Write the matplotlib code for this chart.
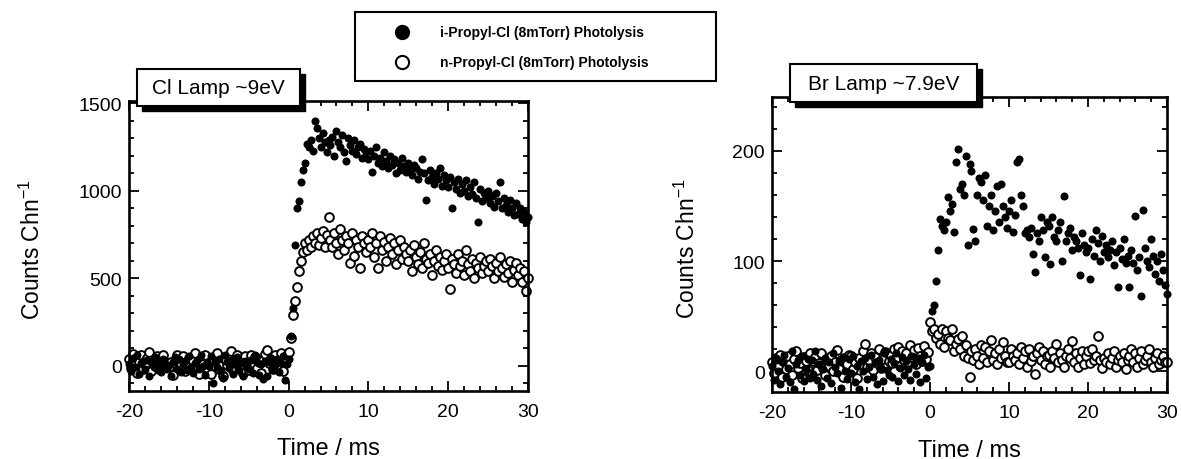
import matplotlib
matplotlib.use("Agg")
import matplotlib.pyplot as plt
from matplotlib.patches import Rectangle
from matplotlib.lines import Line2D
from matplotlib.ticker import MultipleLocator

plt.rcParams['font.family'] = ['Liberation Sans', 'DejaVu Sans']
plt.rcParams['axes.unicode_minus'] = False
plt.rcParams['mathtext.default'] = 'regular'

# 1. Data (time channels in ms, counts per channel)
time_ms = [
    -20.0, -19.75, -19.5, -19.25, -19.0, -18.75, -18.5, -18.25, -18.0, -17.75,
    -17.5, -17.25, -17.0, -16.75, -16.5, -16.25, -16.0, -15.75, -15.5, -15.25,
    -15.0, -14.75, -14.5, -14.25, -14.0, -13.75, -13.5, -13.25, -13.0, -12.75,
    -12.5, -12.25, -12.0, -11.75, -11.5, -11.25, -11.0, -10.75, -10.5, -10.25,
    -10.0, -9.75, -9.5, -9.25, -9.0, -8.75, -8.5, -8.25, -8.0, -7.75,
    -7.5, -7.25, -7.0, -6.75, -6.5, -6.25, -6.0, -5.75, -5.5, -5.25,
    -5.0, -4.75, -4.5, -4.25, -4.0, -3.75, -3.5, -3.25, -3.0, -2.75,
    -2.5, -2.25, -2.0, -1.75, -1.5, -1.25, -1.0, -0.75, -0.5, -0.25,
    0.0, 0.25, 0.5, 0.75, 1.0, 1.25, 1.5, 1.75, 2.0, 2.25,
    2.5, 2.75, 3.0, 3.25, 3.5, 3.75, 4.0, 4.25, 4.5, 4.75,
    5.0, 5.25, 5.5, 5.75, 6.0, 6.25, 6.5, 6.75, 7.0, 7.25,
    7.5, 7.75, 8.0, 8.25, 8.5, 8.75, 9.0, 9.25, 9.5, 9.75,
    10.0, 10.25, 10.5, 10.75, 11.0, 11.25, 11.5, 11.75, 12.0, 12.25,
    12.5, 12.75, 13.0, 13.25, 13.5, 13.75, 14.0, 14.25, 14.5, 14.75,
    15.0, 15.25, 15.5, 15.75, 16.0, 16.25, 16.5, 16.75, 17.0, 17.25,
    17.5, 17.75, 18.0, 18.25, 18.5, 18.75, 19.0, 19.25, 19.5, 19.75,
    20.0, 20.25, 20.5, 20.75, 21.0, 21.25, 21.5, 21.75, 22.0, 22.25,
    22.5, 22.75, 23.0, 23.25, 23.5, 23.75, 24.0, 24.25, 24.5, 24.75,
    25.0, 25.25, 25.5, 25.75, 26.0, 26.25, 26.5, 26.75, 27.0, 27.25,
    27.5, 27.75, 28.0, 28.25, 28.5, 28.75, 29.0, 29.25, 29.5, 29.75,
    30.0,
]

# Cl lamp (~9 eV), i-propyl-Cl photolysis (filled)
cl_iso = [
    10, -30, 45, -5, 60, -45, 15, 30, -20, 35, -60, 20, 5, 50, -10, 25, -35, 40, 0, -15,
    5, -60, 20, 50, -15, 40, -35, 10, 30, -25, 55, -5, -40, 15, 35, -20, 65, 0, -50, 20,
    0, 55, -95, 25, -5, 40, -30, -70, 60, 20, -10, 35, -45, 10, 50, -25, 15, -60, 30, 5,
    -15, 35, -40, 65, 25, -50, 10, -75, 30, -55, 20, 45, -20, 5, 40, -35, 15, 55, -80, 10,
    40, 170, 330, 690, 900, 940, 1050, 1120, 1160, 1270, 1250, 1290, 1230, 1400, 1360, 1300, 1250, 1330, 1280, 1220,
    1290, 1260, 1310, 1200, 1340, 1280, 1250, 1320, 1220, 1170, 1300, 1260, 1230, 1290, 1210, 1250, 1270, 1190, 1240, 1220,
    1180, 1230, 1110, 1200, 1250, 1160, 1190, 1140, 1220, 1170, 1130, 1200, 1150, 1180, 1100, 1160, 1120, 1190, 1140, 1110,
    1160, 1120, 1090, 1150, 1130, 1070, 1110, 1180, 1100, 950, 1060, 1120, 1080, 1040, 1100, 1070, 1130, 1030, 1090, 1060,
    1020, 1080, 900, 1050, 1010, 1070, 990, 1040, 1000, 1060, 970, 1020, 980, 1050, 960, 820, 1010, 940, 990, 960,
    1000, 930, 970, 910, 990, 940, 1050, 900, 960, 920, 880, 950, 900, 860, 930, 870, 900, 840, 880, 820,
    850,
]

# Cl lamp (~9 eV), n-propyl-Cl photolysis (open)
cl_norm = [
    40, -10, 70, 5, -40, 20, 60, -20, 10, 45, 80, -30, 25, 0, 55, -15, 35, 65, -5, 15,
    -5, 25, -50, 15, 65, -15, 5, 55, -30, 20, 45, -20, 30, 75, 0, -45, 40, 10, 60, -10,
    10, -45, 30, 0, 75, -20, 15, -60, 40, 5, 50, 85, -25, 20, 60, -5, 30, -40, 55, 10,
    -25, 60, 10, 50, -10, 20, -40, 35, 70, 90, 15, 45, -20, 65, 5, 30, 75, -30, 40, 60,
    80, 160, 290, 370, 450, 540, 600, 650, 700, 660, 720, 680, 740, 700, 760, 690, 730, 770, 680, 750,
    850, 720, 680, 760, 700, 640, 780, 720, 660, 740, 700, 590, 760, 630, 720, 680, 560, 740, 700, 650,
    720, 680, 760, 620, 700, 560, 740, 660, 710, 600, 680, 730, 640, 700, 580, 660, 720, 610, 680, 640,
    600, 660, 540, 690, 620, 580, 650, 560, 700, 610, 590, 640, 520, 600, 660, 570, 620, 550, 600, 640,
    560, 440, 610, 580, 530, 640, 570, 600, 520, 660, 580, 540, 610, 500, 590, 560, 620, 530, 570, 600,
    540, 610, 570, 500, 590, 540, 620, 560, 510, 580, 530, 600, 480, 550, 590, 520, 560, 480, 540, 430,
    500,
]

# Br lamp (~7.9 eV), i-propyl-Cl photolysis (filled)
br_iso = [
    5, -8, 12, 0, -12, 8, 15, -5, 3, -10, 18, -16, 6, 10, -4, 14, -9, 2, 11, -6,
    10, -3, 18, -8, 6, -14, 2, 12, -6, 8, -11, 16, 4, -2, 9, -15, 13, 0, -7, 11,
    -2, 14, -10, 5, -16, 9, 0, 12, -7, 4, 15, -5, 8, -12, 10, 3, -9, 17, 1, -4,
    11, -5, 7, 16, -9, 3, 13, -4, 9, 2, -8, 14, 6, -3, 12, -10, 8, 15, -6, 4,
    5, 55, 60, 82, 110, 138, 132, 128, 135, 158, 145, 152, 126, 190, 202, 165, 170, 160, 195, 115,
    188, 182, 129, 118, 160, 175, 172, 155, 178, 132, 150, 160, 128, 145, 168, 135, 170, 150, 140, 130,
    145, 155, 126, 142, 190, 193, 160, 150, 125, 128, 122, 130, 106, 90, 125, 118, 140, 128, 104, 135,
    132, 97, 140, 122, 118, 128, 135, 100, 159, 118, 125, 130, 110, 122, 118, 112, 87, 125, 115, 108,
    112, 84, 120, 105, 128, 116, 100, 123, 108, 115, 104, 110, 118, 96, 108, 76, 112, 102, 120, 98,
    105, 76, 110, 98, 141, 92, 104, 68, 146, 112, 100, 95, 120, 105, 88, 100, 82, 106, 92, 78,
    70,
]

# Br lamp (~7.9 eV), n-propyl-Cl photolysis (open)
br_norm = [
    8, -2, 12, 4, 15, -5, 10, 2, 14, 6, -4, 11, 18, 3, 7, -6, 13, 9, 1, 16,
    -3, 9, 13, 1, 7, 16, 3, -4, 11, 5, 14, 0, 8, 19, 2, 10, -5, 12, 6, 15,
    14, 2, 8, -6, 12, 6, 18, 25, 4, 10, 16, 1, 13, 7, 20, 3, 11, 17, 5, 9,
    15, 7, 20, 12, 22, 5, 18, 10, 16, 8, 24, 13, 19, 6, 21, 14, 9, 23, 11, 17,
    45, 36, 38, 30, 34, 25, 38, 22, 36, 30, 28, 38, 18, 25, 29, 20, 32, 14, 24, 12,
    -5, 18, 10, 20, 14, 6, 24, 12, 22, 8, 18, 28, 10, 16, 6, 20, 12, 26, 14, 8,
    8, 20, 14, 10, 16, 6, 22, 12, 18, 4, 20, 9, 14, -3, 16, 22, 10, 18, 6, 14,
    15, 4, 18, 12, 25, 8, 16, 10, 4, 14, 20, 12, 27, 8, 16, 4, 12, 18, 6, 14,
    18, 7, 20, 10, 14, 32, 10, 3, 12, 8, 16, 6, 12, 18, 4, 10, 14, 8, 16, 2,
    10, 14, 20, 8, 16, 4, 12, 18, 6, 10, 14, 20, 8, 4, 12, 16, 6, 10, 14, 8,
    8,
]

legend_labels = ['i-Propyl-Cl (8mTorr) Photolysis', 'n-Propyl-Cl (8mTorr) Photolysis']

# 2. Figure, laid out in pixels of the 1181x460 reference
W, H = 1181, 460
fig = plt.figure(figsize=(W / 100, H / 100), dpi=100)


def fig_rect(x0, y0, x1, y1):
    # pixel box (top-left origin) -> figure fraction [left, bottom, width, height]
    return [x0 / W, 1 - y1 / H, (x1 - x0) / W, (y1 - y0) / H]


panels = [
    dict(rect=(129, 102, 528, 392), ylim=(-143, 1514), major=500, minor=100,
         iso=cl_iso, norm=cl_norm, lamp='Cl Lamp ~9eV', box=(137, 70, 300, 107), ylab_x=-0.21),
    dict(rect=(772, 98, 1167, 393), ylim=(-19, 249), major=100, minor=20,
         iso=br_iso, norm=br_norm, lamp='Br Lamp ~7.9eV', box=(790, 65, 977, 103), ylab_x=-0.182),
]

for p in panels:
    ax = fig.add_axes(fig_rect(*p['rect']))
    ax.plot(time_ms, p['norm'], 'o', ms=6.3, mfc='white', mec='black', mew=1.4,
            clip_on=False, zorder=2)
    ax.plot(time_ms, p['iso'], 'o', ms=5.8, color='black', mew=0, clip_on=False, zorder=3)
    ax.set_xlim(-20, 30)
    ax.set_ylim(*p['ylim'])
    ax.xaxis.set_major_locator(MultipleLocator(10))
    ax.xaxis.set_minor_locator(MultipleLocator(2))
    ax.yaxis.set_major_locator(MultipleLocator(p['major']))
    ax.yaxis.set_minor_locator(MultipleLocator(p['minor']))
    ax.tick_params(which='both', direction='in', top=True, right=True, width=1.3,
                   labelsize=14)
    ax.tick_params(which='major', length=7)
    ax.tick_params(which='minor', length=3.5)
    ax.tick_params(axis='x', pad=9)
    ax.tick_params(axis='y', pad=5)
    for s in ax.spines.values():
        s.set_linewidth(1.9)
    ax.set_xlabel('Time / ms', fontsize=17)
    ax.set_ylabel('Counts Chn$^{-1}$', fontsize=16.5)
    ax.xaxis.set_label_coords(0.5, -0.159)
    ax.yaxis.set_label_coords(p['ylab_x'], 0.49)

    # lamp label box with drop shadow, sitting over the top frame
    x0, y0, x1, y1 = p['box']
    fig.add_artist(Rectangle(fig_rect(x0 + 5, y0 + 5, x1 + 5, y1 + 5)[:2],
                             (x1 - x0) / W, (y1 - y0) / H, transform=fig.transFigure,
                             color='black', zorder=5))
    fig.add_artist(Rectangle(fig_rect(x0, y0, x1, y1)[:2], (x1 - x0) / W, (y1 - y0) / H,
                             transform=fig.transFigure, facecolor='white',
                             edgecolor='black', lw=1.5, zorder=6))
    fig.text((x0 + x1) / 2 / W, 1 - (y0 + y1) / 2 / H, p['lamp'], fontsize=15,
             ha='center', va='center', zorder=7)

# 3. Shared legend box at the top
lx0, ly0, lx1, ly1 = 355, 13, 716, 82
fig.add_artist(Rectangle(fig_rect(lx0, ly0, lx1, ly1)[:2], (lx1 - lx0) / W, (ly1 - ly0) / H,
                         transform=fig.transFigure, facecolor='white', edgecolor='black',
                         lw=1.5, zorder=5))
for row_y, label, filled in [(33, legend_labels[0], True), (63, legend_labels[1], False)]:
    fig.add_artist(Line2D([402 / W], [1 - row_y / H], marker='o', ms=9.5, ls='none',
                          mfc='black' if filled else 'white', mec='black', mew=1.5,
                          transform=fig.transFigure, zorder=6))
    fig.text(440 / W, 1 - row_y / H, label, fontsize=10, fontweight='bold',
             va='center', zorder=6)

fig.savefig('out.png', dpi=100)
